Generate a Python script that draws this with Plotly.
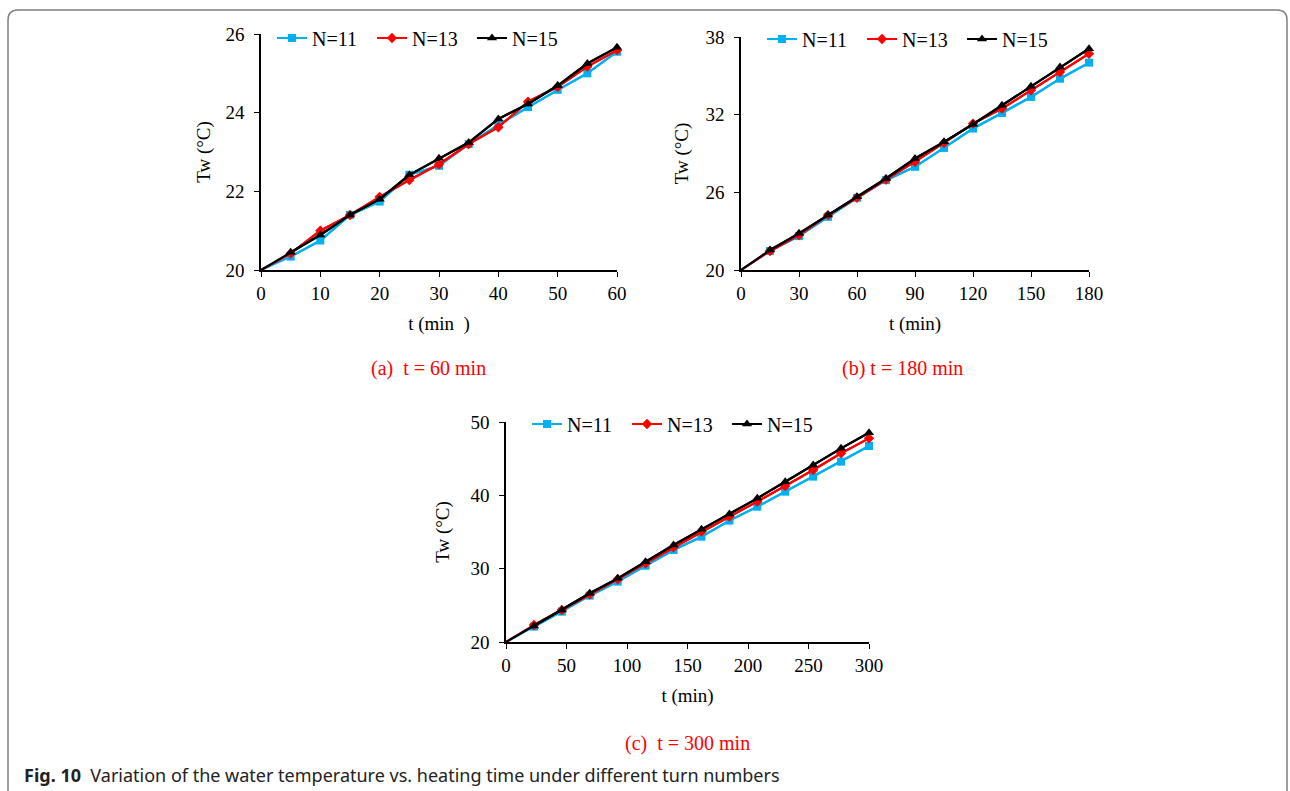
import plotly.graph_objects as go

W, H = 1290, 791

# ---------------- data ----------------
t_a = [0, 5, 10, 15, 20, 25, 30, 35, 40, 45, 50, 55, 60]
a_n11 = [20, 20.34, 20.75, 21.40, 21.74, 22.42, 22.65, 23.20, 23.69, 24.14, 24.58, 25.00, 25.55]
a_n13 = [20, 20.42, 21.00, 21.40, 21.86, 22.29, 22.69, 23.20, 23.63, 24.28, 24.66, 25.17, 25.59]
a_n15 = [20, 20.45, 20.89, 21.40, 21.80, 22.42, 22.84, 23.24, 23.84, 24.22, 24.69, 25.25, 25.66]

t_b = [0, 15, 30, 45, 60, 75, 90, 105, 120, 135, 150, 165, 180]
b_n11 = [20, 21.47, 22.62, 24.11, 25.58, 26.94, 27.97, 29.43, 30.93, 32.13, 33.37, 34.78, 36.02]
b_n13 = [20, 21.47, 22.70, 24.24, 25.58, 26.99, 28.35, 29.82, 31.31, 32.47, 33.88, 35.30, 36.71]
b_n15 = [20, 21.54, 22.83, 24.24, 25.66, 27.07, 28.61, 29.90, 31.26, 32.73, 34.19, 35.68, 37.10]

t_c = [0, 23.08, 46.15, 69.23, 92.31, 115.38, 138.46, 161.54, 184.62, 207.69, 230.77, 253.85, 276.92, 300]
c_n11 = [20, 22.09, 24.14, 26.32, 28.23, 30.41, 32.55, 34.36, 36.55, 38.45, 40.50, 42.55, 44.59, 46.73]
c_n13 = [20, 22.32, 24.36, 26.50, 28.55, 30.73, 32.91, 35.05, 37.09, 39.14, 41.27, 43.45, 45.73, 47.77]
c_n15 = [20, 22.18, 24.36, 26.64, 28.68, 30.95, 33.23, 35.36, 37.45, 39.59, 41.86, 44.14, 46.41, 48.55]

series_names = ["N=11", "N=13", "N=15"]
series_colors = ["#00B0F0", "#FF0000", "#000000"]
series_symbols = ["square", "diamond", "triangle-up"]
series_sizes = [8, 8, 9]

x_ticks_a = [0, 10, 20, 30, 40, 50, 60]
y_ticks_a = [20, 22, 24, 26]
x_ticks_b = [0, 30, 60, 90, 120, 150, 180]
y_ticks_b = [20, 26, 32, 38]
x_ticks_c = [0, 50, 100, 150, 200, 250, 300]
y_ticks_c = [20, 30, 40, 50]

SERIF = "Liberation Serif, Times New Roman, serif"


def px(x):
    return x / W


def py(y):
    return 1 - y / H


fig = go.Figure()

panels = [
    (t_a, [a_n11, a_n13, a_n15], "x", "y", "legend"),
    (t_b, [b_n11, b_n13, b_n15], "x2", "y2", "legend2"),
    (t_c, [c_n11, c_n13, c_n15], "x3", "y3", "legend3"),
]
for t, ys, xa, ya, lg in panels:
    for name, col, sym, sz, yv in zip(series_names, series_colors, series_symbols, series_sizes, ys):
        # full line from the origin (no marker at the origin, as in the original)
        fig.add_trace(go.Scatter(
            x=t, y=yv, name=name, mode="lines", showlegend=False,
            line=dict(color=col, width=2.2), legendgroup=name,
            xaxis=xa, yaxis=ya, legend=lg, cliponaxis=False, hoverinfo="skip",
        ))
        fig.add_trace(go.Scatter(
            x=t[1:], y=yv[1:], name=name, mode="lines+markers",
            line=dict(color=col, width=2.2), legendgroup=name,
            marker=dict(symbol=sym, size=sz, color=col),
            xaxis=xa, yaxis=ya, legend=lg, cliponaxis=False,
        ))

axis_common = dict(
    showline=True, linecolor="black", linewidth=1.5, mirror=False,
    ticks="outside", ticklen=5, tickwidth=1.2, tickcolor="black",
    showgrid=False, zeroline=False, automargin=False,
    tickfont=dict(family=SERIF, size=19, color="black"),
    title_font=dict(family=SERIF, size=19, color="black"),
)

fig.update_layout(
    template="none",
    width=W, height=H,
    margin=dict(l=0, r=0, t=0, b=0, autoexpand=False),
    paper_bgcolor="white", plot_bgcolor="white",
    xaxis=dict(domain=[px(261), px(617)], range=[0, 60], tickvals=x_ticks_a,
               title=dict(text="t (min  )", standoff=14), anchor="y", **axis_common),
    yaxis=dict(domain=[py(270), py(34)], range=[20, 26], tickvals=y_ticks_a,
               ticklabelstandoff=6,
               title=dict(text="Tw (°C)", standoff=10), anchor="x", **axis_common),
    xaxis2=dict(domain=[px(741), px(1089)], range=[0, 180], tickvals=x_ticks_b,
                title=dict(text="t (min)", standoff=14), anchor="y2", **axis_common),
    yaxis2=dict(domain=[py(270), py(37)], range=[20, 38], tickvals=y_ticks_b,
                ticklabelstandoff=6,
                title=dict(text="Tw (°C)", standoff=12), anchor="x2", **axis_common),
    xaxis3=dict(domain=[px(506), px(869)], range=[0, 300], tickvals=x_ticks_c,
                title=dict(text="t (min)", standoff=14), anchor="y3", **axis_common),
    yaxis3=dict(domain=[py(642), py(422)], range=[20, 50], tickvals=y_ticks_c,
                ticklabelstandoff=6,
                title=dict(text="Tw (°C)", standoff=16), anchor="x3", **axis_common),
    showlegend=True,
)

leg_common = dict(orientation="h", xanchor="left", yanchor="middle",
                  bgcolor="rgba(0,0,0,0)", entrywidth=55, entrywidthmode="pixels",
                  font=dict(family=SERIF, size=20, color="black"),
                  itemclick=False, itemdoubleclick=False)
fig.update_layout(
    legend=dict(x=px(272), y=py(38), **leg_common),
    legend2=dict(x=px(762), y=py(39), **leg_common),
    legend3=dict(x=px(527), y=py(424), **leg_common),
)

annots = [
    ("(a)  t = 60 min", 428, 369),
    ("(b) t = 180 min", 902, 369),
    ("(c)  t = 300 min", 687, 743),
]
for txt, x, y in annots:
    fig.add_annotation(text=txt, x=px(x), y=py(y), xref="paper", yref="paper",
                       showarrow=False, xanchor="center", yanchor="middle",
                       font=dict(family=SERIF, size=20, color="#FF0000"))

fig.add_annotation(
    text="<b>Fig. 10</b>  Variation of the water temperature vs. heating time under different turn numbers",
    x=px(22), y=py(775), xref="paper", yref="paper", showarrow=False,
    xanchor="left", yanchor="middle",
    font=dict(family="Noto Sans, sans-serif", size=18, color="#222222"))

# rounded frame (top-left and top-right corners)
x0, x1, yt, yb, r = px(8), px(1287), py(10), py(800), 10
path = (f"M {x0},{yb} L {x0},{py(10 + r)} Q {x0},{yt} {px(8 + r)},{yt} "
        f"L {px(1287 - r)},{yt} Q {x1},{yt} {x1},{py(10 + r)} L {x1},{yb}")
fig.add_shape(type="path", path=path, xref="paper", yref="paper",
              line=dict(color="#7f7f7f", width=1.5))

fig.write_html("out.html")
